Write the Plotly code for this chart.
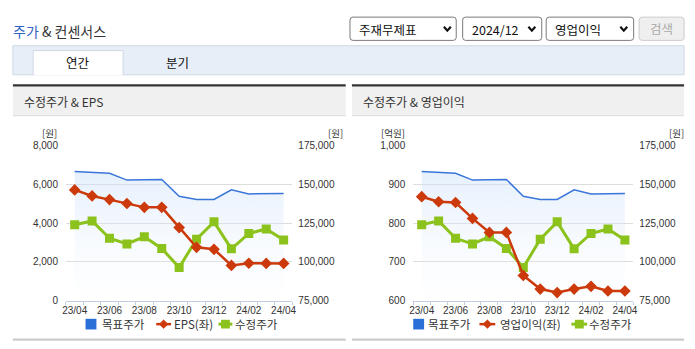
import plotly.graph_objects as go

# ---------------- data ----------------
months = ["23/04", "23/05", "23/06", "23/07", "23/08", "23/09", "23/10",
          "23/11", "23/12", "24/01", "24/02", "24/03", "24/04"]
target_price = [158300, 157700, 157100, 152700, 153100, 153100, 142300,
                140200, 140200, 146400, 143800, 144000, 144000]
adj_price = [123900, 126400, 115200, 111600, 116200, 108700, 96400,
             114600, 125800, 108400, 118300, 121200, 114100]
eps = [5710, 5400, 5210, 5010, 4810, 4810, 3770, 2750, 2650, 1820, 1930, 1920, 1920]
op_profit = [868, 855, 853, 812, 776, 776, 665, 630, 621, 630, 637, 625, 625]

left_ticks_eps = [0, 2000, 4000, 6000, 8000]
left_ticks_op = [600, 700, 800, 900, 1000]
right_ticks = [75000, 100000, 125000, 150000, 175000]

legend_names_eps = ["목표주가", "EPS(좌)", "수정주가"]
legend_names_op = ["목표주가", "영업이익(좌)", "수정주가"]

# ---------------- helpers ----------------
W, H = 695, 349
KR = "Noto Sans CJK KR"
NUM = "Liberation Sans Narrow, Arial Narrow, Liberation Sans, Arial"
BLUE = "#3a76da"
RED = "#cc3a0c"
GREEN = "#8cc21c"
TXT = "#333333"


def px(x):
    return x / W


def py(y):
    return 1 - y / H


shapes = []
annotations = []


def rect(x0, y0, x1, y1, fill, line=None, lw=1):
    shapes.append(dict(type="rect", xref="paper", yref="paper",
                       x0=px(x0), x1=px(x1), y0=py(y1), y1=py(y0),
                       fillcolor=fill, line=dict(color=line or fill, width=lw if line else 0),
                       layer="below"))


def hline(x0, x1, y, color, w=1):
    shapes.append(dict(type="line", xref="paper", yref="paper",
                       x0=px(x0), x1=px(x1), y0=py(y), y1=py(y),
                       line=dict(color=color, width=w)))


def path(points, color, w, fill=None, close=False):
    d = "M " + " L ".join(f"{px(a):.5f},{py(b):.5f}" for a, b in points)
    if close:
        d += " Z"
    shapes.append(dict(type="path", xref="paper", yref="paper", path=d,
                       line=dict(color=color, width=w),
                       fillcolor=fill if fill else "rgba(0,0,0,0)"))


def rrect(x0, y0, x1, y1, r, fill, line):
    P = lambda a, b: f"{px(a):.5f},{py(b):.5f}"
    d = (f"M {P(x0 + r, y0)} L {P(x1 - r, y0)} Q {P(x1, y0)} {P(x1, y0 + r)} "
         f"L {P(x1, y1 - r)} Q {P(x1, y1)} {P(x1 - r, y1)} L {P(x0 + r, y1)} "
         f"Q {P(x0, y1)} {P(x0, y1 - r)} L {P(x0, y0 + r)} Q {P(x0, y0)} {P(x0 + r, y0)} Z")
    shapes.append(dict(type="path", xref="paper", yref="paper", path=d,
                       fillcolor=fill, line=dict(color=line, width=1)))


def text(x, y, s, size=12, color=TXT, anchor="left", family=KR, pad=1):
    annotations.append(dict(x=px(x), y=py(y), xref="paper", yref="paper", text=s,
                            showarrow=False, xanchor=anchor, yanchor="middle",
                            borderpad=pad,
                            font=dict(family=family, size=size, color=color)))


# ---------------- page chrome ----------------
text(7, 26, "<span style='color:#2f63c6'>주가</span> & 컨센서스", size=14, color=TXT)

# dropdowns
for (x0, x1, label, chev) in [(350, 457.5, "주재무제표", 448.5),
                              (464, 544, "2024/12", 534),
                              (548.5, 637, "영업이익", 627)]:
    rrect(x0, 11.5, x1, 35.5, 3, "white", "#7a7a7a")
    text(x0 + 7, 24, label, size=12.5, color="#111111")
    path([(chev - 3.5, 21.5), (chev, 25.5), (chev + 3.5, 21.5)], "#111111", 2.2)
rrect(642.5, 11.5, 688, 35.5, 3, "#efefef", "#cccccc")
text(665.2, 23.5, "검색", size=12.5, color="#aaaaaa", anchor="center")

# tab bar
rect(9, 41, 688, 71, "#e8eef8", "#cfd8e6")
rect(29.5, 46, 120.5, 71, "white", "#cfd8e6")
hline(30, 120, 71, "white", 1.5)
text(75, 58, "연간", size=12.5, color="#111111", anchor="center")
text(176, 58, "분기", size=12.5, color="#111111", anchor="center")

# panels
for (x0, x1, title) in [(9, 345.7, "수정주가 & EPS"), (352, 688, "수정주가 & 영업이익")]:
    rect(x0, 83, x1, 113, "#f0f0f0")
    rect(x0, 80.8, x1, 83, "#333333")
    hline(x0, x1, 113.3, "#dcdcdc", 1)
    rect(x0, 343.3, x1, 345.7, "#cccccc")
    text(x0 + 9, 99, title, size=12, color=TXT)

# ---------------- charts ----------------
fig = go.Figure()

charts = [
    dict(xa="x", yb="y", yo="y2", left=eps, left_range=[0, 8000], left_ticks=left_ticks_eps,
         xdom=(62.7, 291.7), unit="[원]", unit_x=55, runit_x=327,
         legend=legend_names_eps,
         leg=dict(sq=88, t1=98, l2=(154, 169), t2=171, l3=(217, 231), t3=233)),
    dict(xa="x2", yb="y3", yo="y4", left=op_profit, left_range=[600, 1000], left_ticks=left_ticks_op,
         xdom=(414, 636.7), unit="[억원]", unit_x=407, runit_x=672,
         legend=legend_names_op,
         leg=dict(sq=419.5, t1=427.5, l2=(481, 497), t2=500.5, l3=(574, 590), t3=590.5)),
]

xs = list(range(len(months)))
layout_axes = {}
for i, c in enumerate(charts):
    # target price with gradient fill (base axis: right)
    fig.add_trace(go.Scatter(
        x=xs, y=target_price, xaxis=c["xa"], yaxis=c["yb"], mode="lines",
        line=dict(color=BLUE, width=1.5), fill="tozeroy",
        fillgradient=dict(type="vertical",
                          colorscale=[[0, "rgba(235,243,253,0.0)"], [1, "rgba(205,225,249,0.5)"]],
                          start=75000, stop=158000),
        showlegend=False, hoverinfo="skip"))
    fig.add_trace(go.Scatter(
        x=xs, y=adj_price, xaxis=c["xa"], yaxis=c["yb"], mode="lines+markers",
        line=dict(color=GREEN, width=3), marker=dict(symbol="square", size=9, color=GREEN),
        showlegend=False))
    fig.add_trace(go.Scatter(
        x=xs, y=c["left"], xaxis=c["xa"], yaxis=c["yo"], mode="lines+markers",
        line=dict(color=RED, width=2.5), marker=dict(symbol="diamond", size=9, color=RED),
        showlegend=False))

    xk = "xaxis" if i == 0 else "xaxis2"
    ybk = "yaxis" if i == 0 else "yaxis3"
    yok = "yaxis2" if i == 0 else "yaxis4"
    layout_axes[xk] = dict(
        domain=[px(c["xdom"][0]), px(c["xdom"][1])], range=[-0.5, len(months) - 0.5],
        anchor=c["yb"], tickvals=xs[::2], ticktext=months[::2], showgrid=False,
        zeroline=False, showline=True, linecolor="#c3cde0", linewidth=1, ticks="",
        ticklabelstandoff=0,
        tickfont=dict(family=NUM, size=10, color=TXT),
        minor=dict(tickvals=[v - 0.5 for v in range(len(months) + 1)], ticks="outside",
                   ticklen=3, tickcolor="#c3cde0", showgrid=False))
    layout_axes[ybk] = dict(
        domain=[py(304.3), py(144)], range=[75000, 175000], side="right",
        anchor=c["xa"], tickvals=right_ticks, tickformat=",d", showgrid=False,
        zeroline=False, showline=False, ticks="", ticklabelstandoff=5,
        tickfont=dict(family=NUM, size=10, color=TXT))
    layout_axes[yok] = dict(
        overlaying=c["yb"], side="left", anchor=c["xa"], range=c["left_range"],
        tickvals=c["left_ticks"], tickformat=",d", showgrid=True, gridcolor="#dddddd",
        gridwidth=1, zeroline=False, showline=False, ticks="", ticklabelstandoff=7,
        tickfont=dict(family=NUM, size=10, color=TXT))

    # unit labels
    text(c["unit_x"], 131.5, c["unit"], size=9.5, color=TXT, anchor="right", pad=0)
    text(c["runit_x"], 131.5, "[원]", size=9.5, color=TXT, anchor="left", pad=0)

    # legend
    L = c["leg"]
    yc = 328.5
    rect(L["sq"] - 5.5, yc - 5.5, L["sq"] + 5.5, yc + 5.5, "#2a6ed8")
    shapes[-1]["layer"] = "above"
    text(L["t1"], yc, c["legend"][0], size=11.5, color=TXT, pad=0)
    a, b = L["l2"]
    hline(a, b, yc, RED, 2.5)
    m = (a + b) / 2
    path([(m, yc - 4.5), (m + 4.5, yc), (m, yc + 4.5), (m - 4.5, yc)], RED, 0.5, fill=RED, close=True)
    text(L["t2"], yc, c["legend"][1], size=11.5, color=TXT, pad=0)
    a, b = L["l3"]
    hline(a, b, yc, GREEN, 3)
    m = (a + b) / 2
    rect(m - 4.5, yc - 4.5, m + 4.5, yc + 4.5, GREEN)
    shapes[-1]["layer"] = "above"
    text(L["t3"], yc, c["legend"][2], size=11.5, color=TXT, pad=0)

fig.update_layout(
    width=W, height=H, margin=dict(l=0, r=0, t=0, b=0),
    paper_bgcolor="white", plot_bgcolor="rgba(0,0,0,0)",
    showlegend=False, shapes=shapes, annotations=annotations,
    font=dict(family=KR, color=TXT),
    **layout_axes)

fig.write_html("out.html")
